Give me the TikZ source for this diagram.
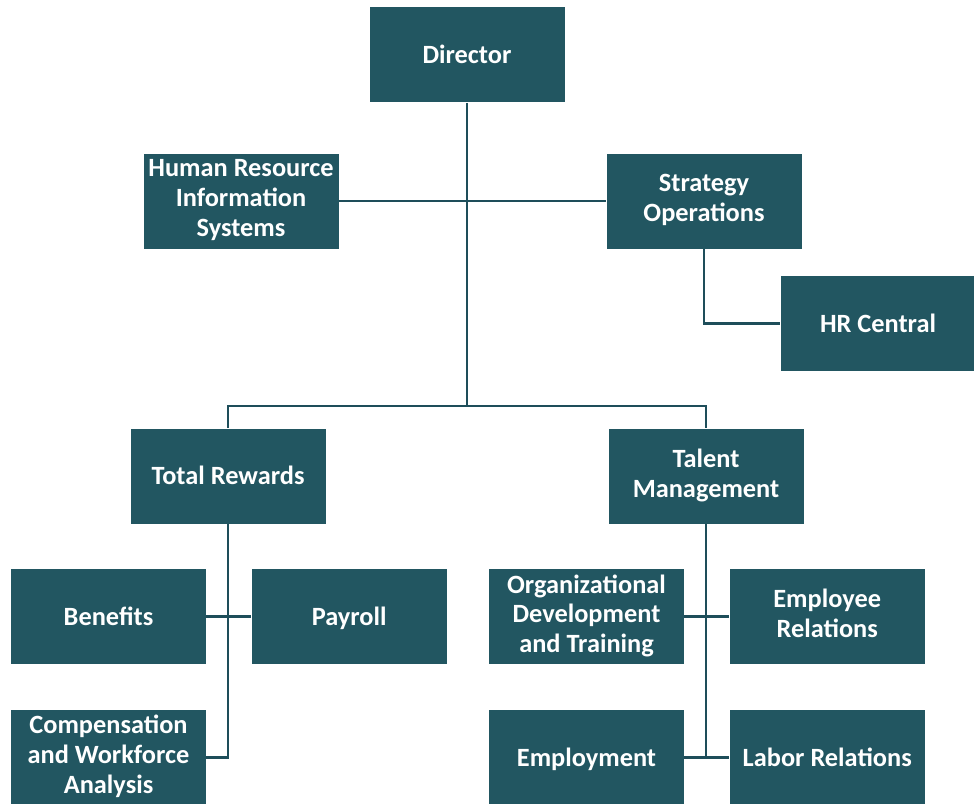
\documentclass[tikz,border=0pt]{standalone}
\usepackage{fontspec}
\setmainfont{Carlito}
\usetikzlibrary{positioning}
\definecolor{teal}{HTML}{225661}
\definecolor{tealline}{HTML}{1E4E5A}
\tikzset{
  unit/.style={rectangle, fill=teal, text=white, font=\bfseries\fontsize{15}{17}\selectfont,
    minimum width=3.9cm, minimum height=1.9cm, inner sep=0pt, align=center,
    execute at begin node=\rule{0pt}{13.7pt},
    execute at end node=\rule[-3.5pt]{0pt}{3.5pt}},
  link/.style={draw=tealline, line width=1.4pt}
}
\begin{document}
\begin{tikzpicture}[node distance=0.9cm]
  \useasboundingbox (0,0) rectangle (19.48,-16.08);
  % Define nodes
  \node[unit] at (9.34,-1.10) (dir) {Director};
  \node[unit] at (4.82,-4.02) (hris) {Human Resource\\Information\\Systems};
  \node[unit] at (14.08,-4.02) (strat) {Strategy\\Operations};
  \node[unit, below=0.54cm of strat, xshift=3.48cm] (hrc) {HR Central};
  \node[unit] at (4.56,-9.52) (tr) {Total Rewards};
  \node[unit] at (14.12,-9.52) (tm) {Talent\\Management};
  \node[unit, below=of tr, xshift=-2.39cm] (ben) {Benefits};
  \node[unit, right=of ben] (pay) {Payroll};
  \node[unit, below=of ben] (comp) {Compensation\\and Workforce\\Analysis};
  \node[unit, below=of tm, xshift=-2.39cm] (odt) {Organizational\\Development\\and Training};
  \node[unit, right=of odt] (er) {Employee\\Relations};
  \node[unit, below=of odt] (emp) {Employment};
  \node[unit, below=of er] (lr) {Labor Relations};
  \coordinate (split) at (9.34,-8.12);
  % Connect nodes
  \draw[link] (dir) -- (split);
  \draw[link] (hris) -- (strat);
  \draw[link] (strat.south) |- (hrc.west);
  \draw[link] (tr.north) |- (split) -| (tm.north);
  \draw[link] (tr.south) |- (comp.east);
  \draw[link] (ben) -- (pay);
  \draw[link] (tm.south) -- (tm.south |- emp.east);
  \draw[link] (odt) -- (er);
  \draw[link] (emp) -- (lr);
\end{tikzpicture}
\end{document}
